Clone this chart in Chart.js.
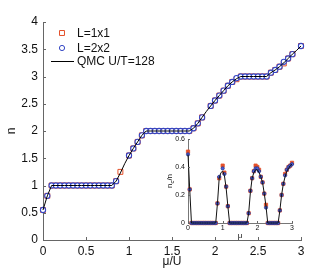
<!DOCTYPE html>
<html>
<head>
<meta charset="utf-8">
<script src="https://cdn.jsdelivr.net/npm/chart.js@4.4.0/dist/chart.umd.min.js"></script>
<style>
  html, body { margin: 0; padding: 0; background: #fff; }
  #contenedor { position: relative; width: 332px; height: 270px; }
  #grafico { position: absolute; left: 0; top: 0; }
  #recuadro { position: absolute; left: 160px; top: 128px; }
</style>
</head>
<body>
<div id="contenedor">
  <canvas id="grafico" width="332" height="270"></canvas>
  <canvas id="recuadro" width="168" height="116"></canvas>
</div>
<script>
// Eje horizontal: mu/U
const mu = [0, 0.05, 0.1, 0.15, 0.2, 0.25, 0.3, 0.35, 0.4, 0.45, 0.5, 0.55, 0.6, 0.65, 0.7, 0.75, 0.8,
            0.85, 0.9, 0.95, 1, 1.05, 1.1, 1.15, 1.2, 1.25, 1.3, 1.35, 1.4, 1.45, 1.5, 1.55, 1.6, 1.65, 1.7,
            1.75, 1.8, 1.85, 1.9, 1.95, 2, 2.05, 2.1, 2.15, 2.2, 2.25, 2.3, 2.35, 2.4, 2.45, 2.5, 2.55, 2.6,
            2.65, 2.7, 2.75, 2.8, 2.85, 2.9, 2.95, 3];

// Densidad n (grafico principal)
const nQmc = [0.55, 0.81, 1, 1, 1, 1, 1, 1, 1, 1, 1, 1, 1, 1, 1, 1, 1,
              1.08, 1.23, 1.4, 1.55, 1.68, 1.8, 1.92, 2, 2, 2, 2, 2, 2, 2, 2, 2, 2, 2,
              2.05, 2.14, 2.25, 2.36, 2.46, 2.56, 2.65, 2.74, 2.83, 2.9, 2.96, 3, 3, 3, 3, 3, 3, 3,
              3.07, 3.12, 3.18, 3.25, 3.33, 3.41, 3.48, 3.56];
const nL2 = [0.55, 0.81, 1, 1, 1, 1, 1, 1, 1, 1, 1, 1, 1, 1, 1, 1, 1,
             1.08, null, null, 1.55, 1.68, 1.8, 1.92, 2, 2, 2, 2, 2, 2, 2, 2, 2, 2, 2,
             2.05, 2.14, 2.25, null, 2.46, 2.56, 2.65, 2.74, 2.83, 2.9, 2.97, 3, 3, 3, 3, 3, 3, 3,
             3.07, 3.12, 3.18, 3.27, 3.33, 3.41, null, 3.56];
const nL1 = [0.55, 0.81, 1, 1, 1, 1, 1, 1, 1, 1, 1, 1, 1, 1, 1, 1, 1,
             1.08, 1.25, null, 1.55, 1.68, 1.8, 1.92, 2, 2, 2, 2, 2, 2, 2, 2, 2, 2, 2,
             2.05, 2.14, 2.25, null, 2.46, 2.56, 2.65, 2.74, 2.83, 2.9, 2.95, 3, 3, 3, 3, 3, 3, 3,
             3.07, 3.12, 3.18, 3.24, 3.33, 3.41, null, 3.56];

// Fraccion condensada n_c/n (recuadro)
const ncQmc = [0.49, 0.24, 0, 0, 0, 0, 0, 0, 0, 0, 0, 0, 0, 0, 0, 0, 0,
               0.14, 0.32, 0.36, 0.37, 0.34, 0.25, 0.12, 0, 0, 0, 0, 0, 0, 0, 0, 0, 0, 0,
               0.07, 0.22, 0.32, 0.36, 0.38, 0.38, 0.36, 0.33, 0.29, 0.21, 0.12, 0, 0, 0, 0, 0, 0, 0,
               0.09, 0.2, 0.28, 0.33, 0.37, 0.39, 0.41, 0.42];
const ncL2 = [0.49, 0.24, 0, 0, 0, 0, 0, 0, 0, 0, 0, 0, 0, 0, 0, 0, 0,
              0.14, 0.33, null, 0.39, 0.35, 0.26, 0.12, 0, 0, 0, 0, 0, 0, 0, 0, 0, 0, 0,
              0.07, 0.23, 0.32, 0.37, 0.39, 0.39, 0.37, 0.33, 0.29, 0.21, 0.11, 0, 0, 0, 0, 0, 0, 0,
              0.09, 0.2, 0.28, 0.34, 0.38, 0.4, 0.41, 0.42];
const ncL1 = [0.51, 0.24, 0, 0, 0, 0, 0, 0, 0, 0, 0, 0, 0, 0, 0, 0, 0,
              0.14, 0.32, null, 0.41, 0.36, 0.26, 0.12, 0, 0, 0, 0, 0, 0, 0, 0, 0, 0, 0,
              0.07, 0.23, 0.32, 0.37, 0.41, 0.4, 0.38, 0.33, 0.29, 0.21, 0.13, 0, 0, 0, 0, 0, 0, 0,
              0.09, 0.2, 0.28, 0.35, 0.38, 0.4, 0.41, 0.43];

// Marcas de los ejes
const ticksMu = [0, 0.5, 1, 1.5, 2, 2.5, 3];
const ticksN = [0, 0.5, 1, 1.5, 2, 2.5, 3, 3.5, 4];
const ticksMuRec = [0, 1, 2, 3];
const ticksNcRec = [0, 0.2, 0.4, 0.6];

const rojo = '#e4502a';
const azul = '#3446c4';
const fuente = '"Liberation Sans", Arial, sans-serif';
Chart.defaults.font.family = fuente;
Chart.defaults.color = '#111';

function puntos(ys) {
    return mu.map((x, i) => ({ x: x, y: ys[i] }));
}

// Etiquetas sin ceros de relleno (1 en vez de 1.0)
const etiqueta = v => String(v);

// Marcas hacia dentro, como en MATLAB
const marcasDentro = {
    id: 'marcasDentro',
    afterDatasetsDraw(chart, args, opts) {
        const ctx = chart.ctx;
        const area = chart.chartArea;
        const largo = opts.largo || 3;
        ctx.save();
        ctx.strokeStyle = '#666';
        ctx.lineWidth = 1;
        ctx.beginPath();
        chart.scales.x.ticks.forEach(t => {
            const px = Math.round(chart.scales.x.getPixelForValue(t.value)) + 0.5;
            ctx.moveTo(px, area.bottom);
            ctx.lineTo(px, area.bottom - largo);
        });
        chart.scales.y.ticks.forEach(t => {
            const py = Math.round(chart.scales.y.getPixelForValue(t.value)) + 0.5;
            ctx.moveTo(area.left, py);
            ctx.lineTo(area.left + largo, py);
        });
        ctx.stroke();
        ctx.restore();
    }
};

// Leyenda dentro del area del grafico
const leyendaInterna = {
    id: 'leyendaInterna',
    afterDraw(chart) {
        const ctx = chart.ctx;
        const filas = [33, 48, 61];
        ctx.save();
        ctx.font = '12px ' + fuente;
        ctx.textBaseline = 'middle';
        chart.data.datasets.forEach((d, i) => {
            const y = filas[i];
            ctx.strokeStyle = d.borderColor;
            ctx.fillStyle = d.backgroundColor;
            ctx.lineWidth = 1;
            if (d.showLine) {
                ctx.beginPath();
                ctx.moveTo(51, y + 0.5);
                ctx.lineTo(74, y + 0.5);
                ctx.stroke();
            } else {
                Chart.helpers.drawPoint(ctx, {
                    pointStyle: d.pointStyle, radius: d.pointRadius,
                    borderWidth: d.pointBorderWidth, rotation: 0
                }, 62, y);
            }
            ctx.fillStyle = '#111';
            ctx.fillText(d.label, 77, y + 1);
        });
        ctx.restore();
    }
};

// Titulo vertical del recuadro con subindice
const tituloRecuadro = {
    id: 'tituloRecuadro',
    afterDraw(chart) {
        const ctx = chart.ctx;
        const area = chart.chartArea;
        const grande = '8px ' + fuente;
        const chico = '6px ' + fuente;
        ctx.save();
        ctx.translate(10, (area.top + area.bottom) / 2);
        ctx.rotate(-Math.PI / 2);
        ctx.fillStyle = '#111';
        ctx.textBaseline = 'middle';
        ctx.font = grande;
        const w1 = ctx.measureText('n').width;
        const w3 = ctx.measureText('/n').width;
        ctx.font = chico;
        const w2 = ctx.measureText('c').width;
        let x = -(w1 + w2 + w3) / 2;
        ctx.font = grande;
        ctx.fillText('n', x, 0);
        x += w1;
        ctx.font = chico;
        ctx.fillText('c', x, 2.5);
        x += w2;
        ctx.font = grande;
        ctx.fillText('/n', x, 0);
        ctx.restore();
    }
};

// Grafico principal
new Chart(document.getElementById('grafico'), {
    type: 'scatter',
    data: {
        datasets: [{
            label: 'L=1x1',
            data: puntos(nL1),
            pointStyle: 'rect',
            pointRadius: 3.5,
            pointBorderWidth: 1,
            borderColor: rojo,
            backgroundColor: 'rgba(255,255,255,1)',
            clip: false,
            order: 2
        }, {
            label: 'L=2x2',
            data: puntos(nL2),
            pointStyle: 'circle',
            pointRadius: 2.6,
            pointBorderWidth: 1.1,
            borderColor: azul,
            backgroundColor: 'rgba(255,255,255,1)',
            clip: false,
            order: 1
        }, {
            label: 'QMC U/T=128',
            data: puntos(nQmc),
            showLine: true,
            pointRadius: 0,
            borderWidth: 1,
            borderColor: '#000',
            backgroundColor: '#000',
            clip: false,
            order: 0
        }]
    },
    options: {
        responsive: false,
        animation: false,
        devicePixelRatio: 1,
        layout: { padding: { top: 22, right: 31, left: 0, bottom: 0 } },
        plugins: {
            legend: { display: false },
            tooltip: { enabled: false },
            marcasDentro: { largo: 3 }
        },
        scales: {
            x: {
                type: 'linear', min: 0, max: 3,
                afterBuildTicks: s => { s.ticks = ticksMu.map(v => ({ value: v })); },
                afterFit: s => { s.height = 30; },
                grid: { drawOnChartArea: false, drawTicks: false },
                border: { color: '#666', width: 1 },
                ticks: { font: { size: 12 }, padding: 4, color: '#111', maxRotation: 0, callback: etiqueta },
                title: { display: true, text: 'μ/U', font: { size: 12 }, padding: { top: 0, bottom: 1 }, color: '#111' }
            },
            y: {
                type: 'linear', min: 0, max: 4,
                afterBuildTicks: s => { s.ticks = ticksN.map(v => ({ value: v })); },
                afterFit: s => { s.width = 43; },
                grid: { drawOnChartArea: false, drawTicks: false },
                border: { color: '#666', width: 1 },
                ticks: { font: { size: 12 }, padding: 5, color: '#111', callback: etiqueta },
                title: { display: true, text: 'n', font: { size: 12 }, padding: { top: 4, bottom: 0 }, color: '#111' }
            }
        }
    },
    plugins: [marcasDentro, leyendaInterna]
});

// Recuadro: fraccion condensada
new Chart(document.getElementById('recuadro'), {
    type: 'scatter',
    data: {
        datasets: [{
            label: 'L=1x1',
            data: puntos(ncL1),
            pointStyle: 'rect',
            pointRadius: 2.3,
            pointBorderWidth: 0.8,
            borderColor: rojo,
            backgroundColor: rojo,
            clip: false,
            order: 2
        }, {
            label: 'L=2x2',
            data: puntos(ncL2),
            pointStyle: 'circle',
            pointRadius: 1.6,
            pointBorderWidth: 0.8,
            borderColor: '#27358f',
            backgroundColor: '#4a5fd6',
            clip: false,
            order: 1
        }, {
            label: 'QMC U/T=128',
            data: puntos(ncQmc),
            showLine: true,
            pointRadius: 0,
            borderWidth: 1,
            borderColor: '#111',
            clip: false,
            order: 0
        }]
    },
    options: {
        responsive: false,
        animation: false,
        devicePixelRatio: 1,
        layout: { padding: { top: 11, right: 36, left: 0, bottom: 0 } },
        plugins: {
            legend: { display: false },
            tooltip: { enabled: false },
            marcasDentro: { largo: 2 }
        },
        scales: {
            x: {
                type: 'linear', min: 0, max: 3,
                afterBuildTicks: s => { s.ticks = ticksMuRec.map(v => ({ value: v })); },
                afterFit: s => { s.height = 21; },
                grid: { drawOnChartArea: false, drawTicks: false },
                border: { color: '#777', width: 1 },
                ticks: { font: { size: 7 }, padding: 1, color: '#111', maxRotation: 0, callback: etiqueta },
                title: { display: true, text: 'μ', font: { size: 8 }, padding: { top: 0, bottom: 3 }, color: '#111' }
            },
            y: {
                type: 'linear', min: 0, max: 0.6,
                afterBuildTicks: s => { s.ticks = ticksNcRec.map(v => ({ value: v })); },
                afterFit: s => { s.width = 28; },
                grid: { drawOnChartArea: false, drawTicks: false },
                border: { color: '#777', width: 1 },
                ticks: { font: { size: 7 }, padding: 3, color: '#111', callback: etiqueta }
            }
        }
    },
    plugins: [marcasDentro, tituloRecuadro]
});
</script>
</body>
</html>
